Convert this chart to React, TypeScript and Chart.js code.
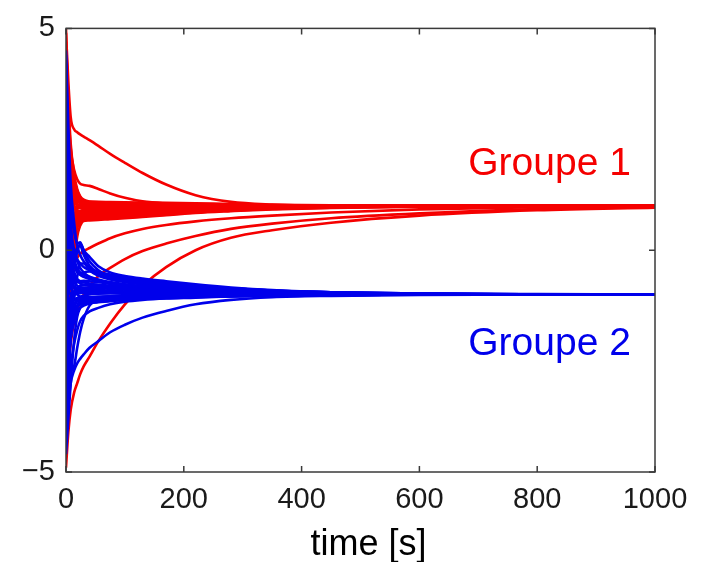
import React, { useEffect, useRef } from "react";
import { Chart, registerables } from "chart.js";

Chart.register(...registerables);

// ---- data ----
const TIME = [0, 4, 8, 14, 19, 24, 30, 40, 55, 75, 100, 130, 170, 220, 280, 350, 450, 600, 800, 1000];

// Groupe 1 (red) trajectories
const RED_1 = [4.9, 3.8, 3.0, 2.72, 2.66, 2.61, 2.56, 2.48, 2.35, 2.17, 1.97, 1.74, 1.48, 1.24, 1.09, 1.03, 1.0, 1.0, 1.0, 1.0];
const RED_2 = [4.6, 3.2, 2.3, 1.8, 1.6, 1.5, 1.47, 1.45, 1.38, 1.28, 1.18, 1.1, 1.05, 1.02, 1.01, 1.0, 1.0, 1.0, 1.0, 1.0];
const RED_3 = [4.7, 3.4, 2.4, 1.7, 1.38, 1.22, 1.14, 1.1, 1.08, 1.06, 1.05, 1.04, 1.03, 1.02, 1.01, 1.0, 1.0, 1.0, 1.0, 1.0];
const RED_4 = [4.0, 2.8, 2.0, 1.45, 1.22, 1.1, 1.03, 1.0, 0.98, 0.97, 0.97, 0.98, 0.99, 0.995, 1.0, 1.0, 1.0, 1.0, 1.0, 1.0];
const RED_5 = [3.2, 2.2, 1.6, 1.2, 1.02, 0.95, 0.92, 0.91, 0.91, 0.92, 0.93, 0.94, 0.95, 0.97, 0.98, 0.99, 1.0, 1.0, 1.0, 1.0];
const RED_6 = [2.2, 1.7, 1.3, 1.0, 0.87, 0.82, 0.8, 0.8, 0.81, 0.83, 0.85, 0.87, 0.9, 0.93, 0.95, 0.97, 0.985, 0.995, 1.0, 1.0];
const RED_7 = [1.0, 0.9, 0.85, 0.8, 0.76, 0.73, 0.72, 0.72, 0.73, 0.75, 0.77, 0.8, 0.83, 0.87, 0.91, 0.94, 0.97, 0.99, 1.0, 1.0];
const RED_8 = [-1.0, -0.3, 0.2, 0.5, 0.6, 0.64, 0.66, 0.67, 0.68, 0.7, 0.72, 0.75, 0.79, 0.84, 0.88, 0.92, 0.955, 0.98, 0.995, 1.0];
const RED_9 = [-2.5, -1.0, 0.1, 0.7, 0.93, 1.02, 1.06, 1.08, 1.07, 1.05, 1.04, 1.03, 1.02, 1.01, 1.0, 1.0, 1.0, 1.0, 1.0, 1.0];
const RED_10 = [3.6, 1.5, 0.6, 0.6, 0.75, 0.85, 0.9, 0.94, 0.96, 0.97, 0.98, 0.99, 0.99, 1.0, 1.0, 1.0, 1.0, 1.0, 1.0, 1.0];
const RED_11 = [-0.5, 0.5, 1.0, 1.15, 1.13, 1.11, 1.1, 1.09, 1.09, 1.085, 1.08, 1.075, 1.07, 1.06, 1.04, 1.025, 1.01, 1.0, 1.0, 1.0];
const RED_12 = [-2.0, -1.1, -0.6, -0.3, -0.17, -0.08, -0.02, 0.05, 0.15, 0.27, 0.38, 0.48, 0.57, 0.65, 0.72, 0.78, 0.85, 0.92, 0.97, 0.99];
const RED_13 = [-3.6, -2.7, -2.1, -1.6, -1.35, -1.17, -1.0, -0.8, -0.58, -0.4, -0.2, -0.02, 0.15, 0.32, 0.48, 0.6, 0.72, 0.83, 0.93, 0.97];
const RED_14 = [-4.9, -4.1, -3.6, -3.2, -3.0, -2.8, -2.62, -2.4, -2.05, -1.65, -1.22, -0.8, -0.38, 0.0, 0.28, 0.45, 0.62, 0.78, 0.9, 0.96];
const RED_15 = [4.2, 2.5, 1.7, 1.25, 1.1, 1.06, 1.05, 1.04, 1.04, 1.035, 1.03, 1.03, 1.025, 1.02, 1.01, 1.005, 1.0, 1.0, 1.0, 1.0];
const RED_16 = [3.0, 1.9, 1.35, 1.08, 1.02, 1.0, 1.0, 0.99, 0.99, 0.99, 0.99, 0.99, 1.0, 1.0, 1.0, 1.0, 1.0, 1.0, 1.0, 1.0];
const RED_17 = [2.6, 1.6, 1.1, 0.98, 0.95, 0.95, 0.95, 0.95, 0.95, 0.96, 0.96, 0.97, 0.98, 0.99, 0.995, 1.0, 1.0, 1.0, 1.0, 1.0];
const RED_18 = [1.5, 1.2, 1.0, 0.92, 0.9, 0.88, 0.88, 0.88, 0.88, 0.89, 0.9, 0.91, 0.93, 0.95, 0.965, 0.98, 0.99, 1.0, 1.0, 1.0];
const RED_19 = [0.5, 0.7, 0.8, 0.83, 0.84, 0.84, 0.84, 0.84, 0.85, 0.86, 0.87, 0.89, 0.91, 0.93, 0.95, 0.97, 0.985, 0.995, 1.0, 1.0];
const RED_20 = [-0.5, 0.2, 0.55, 0.7, 0.75, 0.77, 0.78, 0.78, 0.79, 0.8, 0.82, 0.84, 0.87, 0.9, 0.93, 0.955, 0.975, 0.99, 1.0, 1.0];
const RED_21 = [-1.5, -0.5, 0.2, 0.55, 0.68, 0.72, 0.74, 0.75, 0.76, 0.77, 0.79, 0.81, 0.84, 0.88, 0.915, 0.945, 0.97, 0.99, 1.0, 1.0];
const RED_22 = [-3.0, -1.5, -0.4, 0.35, 0.6, 0.68, 0.7, 0.71, 0.72, 0.73, 0.75, 0.78, 0.82, 0.86, 0.9, 0.935, 0.965, 0.985, 0.995, 1.0];
const RED_23 = [-4.0, -2.2, -0.8, 0.3, 0.62, 0.68, 0.69, 0.7, 0.71, 0.72, 0.74, 0.77, 0.8, 0.85, 0.89, 0.93, 0.96, 0.985, 0.995, 1.0];
const RED_24 = [5.0, 3.0, 1.8, 1.3, 1.15, 1.1, 1.08, 1.07, 1.065, 1.06, 1.055, 1.05, 1.04, 1.03, 1.02, 1.01, 1.0, 1.0, 1.0, 1.0];
const RED_25 = [2.0, 0.6, 0.3, 0.5, 0.7, 0.8, 0.85, 0.88, 0.9, 0.92, 0.94, 0.96, 0.97, 0.98, 0.99, 1.0, 1.0, 1.0, 1.0, 1.0];
const RED_26 = [0.8, 1.4, 1.5, 1.3, 1.15, 1.08, 1.03, 1.0, 0.97, 0.95, 0.95, 0.96, 0.97, 0.98, 0.99, 1.0, 1.0, 1.0, 1.0, 1.0];
const RED_27 = [3.8, 2.0, 1.1, 0.85, 0.8, 0.79, 0.79, 0.8, 0.81, 0.82, 0.84, 0.86, 0.88, 0.91, 0.94, 0.96, 0.98, 0.995, 1.0, 1.0];
const RED_28 = [-0.2, 0.8, 1.2, 1.1, 1.03, 1.0, 0.98, 0.96, 0.94, 0.93, 0.93, 0.94, 0.95, 0.96, 0.975, 0.985, 0.995, 1.0, 1.0, 1.0];
const RED_29 = [4.4, 2.0, 1.2, 1.0, 0.98, 0.98, 0.98, 0.98, 0.98, 0.985, 0.99, 0.99, 0.995, 1.0, 1.0, 1.0, 1.0, 1.0, 1.0, 1.0];
const RED_30 = [1.8, 2.4, 2.0, 1.5, 1.25, 1.12, 1.06, 1.03, 1.01, 1.0, 1.0, 1.0, 1.0, 1.0, 1.0, 1.0, 1.0, 1.0, 1.0, 1.0];
const RED_31 = [-3.3, -1.8, -0.6, 0.2, 0.5, 0.62, 0.7, 0.76, 0.8, 0.84, 0.87, 0.9, 0.93, 0.95, 0.97, 0.98, 0.99, 1.0, 1.0, 1.0];
const RED_32 = [3.4, 2.6, 2.0, 1.6, 1.35, 1.2, 1.12, 1.07, 1.04, 1.02, 1.01, 1.0, 1.0, 1.0, 1.0, 1.0, 1.0, 1.0, 1.0, 1.0];
const RED_33 = [-4.5, -3.0, -1.5, -0.3, 0.3, 0.55, 0.68, 0.75, 0.8, 0.84, 0.88, 0.91, 0.94, 0.96, 0.975, 0.985, 0.995, 1.0, 1.0, 1.0];
const RED_34 = [0.2, 0.0, 0.15, 0.4, 0.55, 0.64, 0.7, 0.75, 0.79, 0.83, 0.86, 0.89, 0.92, 0.95, 0.97, 0.98, 0.99, 1.0, 1.0, 1.0];

// Groupe 2 (blue) trajectories
const BLUE_1 = [4.4, 2.2, 1.0, 0.4, 0.15, 0.18, 0.0, -0.15, -0.36, -0.5, -0.58, -0.64, -0.7, -0.77, -0.84, -0.9, -0.95, -0.98, -0.995, -1.0];
const BLUE_2 = [-1.5, -1.0, -0.6, -0.3, -0.05, 0.15, 0.0, -0.25, -0.45, -0.6, -0.67, -0.72, -0.78, -0.84, -0.9, -0.94, -0.97, -0.99, -1.0, -1.0];
const BLUE_3 = [3.5, 1.5, 0.4, -0.2, -0.4, -0.5, -0.55, -0.6, -0.66, -0.72, -0.77, -0.81, -0.86, -0.9, -0.94, -0.96, -0.98, -0.99, -1.0, -1.0];
const BLUE_4 = [2.5, 0.8, -0.1, -0.5, -0.65, -0.7, -0.72, -0.75, -0.79, -0.83, -0.86, -0.89, -0.92, -0.95, -0.97, -0.98, -0.99, -1.0, -1.0, -1.0];
const BLUE_5 = [1.2, 0.2, -0.4, -0.7, -0.8, -0.83, -0.85, -0.87, -0.89, -0.91, -0.93, -0.95, -0.96, -0.97, -0.98, -0.99, -1.0, -1.0, -1.0, -1.0];
const BLUE_6 = [0.0, -0.6, -0.85, -0.95, -0.98, -0.97, -0.96, -0.96, -0.97, -0.97, -0.98, -0.98, -0.99, -0.99, -1.0, -1.0, -1.0, -1.0, -1.0, -1.0];
const BLUE_7 = [-2.5, -1.6, -1.2, -1.1, -1.08, -1.07, -1.06, -1.06, -1.05, -1.05, -1.04, -1.03, -1.03, -1.02, -1.01, -1.01, -1.0, -1.0, -1.0, -1.0];
const BLUE_8 = [-3.8, -2.6, -1.8, -1.4, -1.25, -1.2, -1.18, -1.16, -1.14, -1.12, -1.1, -1.08, -1.06, -1.04, -1.03, -1.02, -1.01, -1.0, -1.0, -1.0];
const BLUE_9 = [-3.3, -3.0, -2.6, -2.1, -1.8, -1.6, -1.48, -1.38, -1.3, -1.22, -1.16, -1.12, -1.09, -1.07, -1.04, -1.02, -1.01, -1.0, -1.0, -1.0];
const BLUE_10 = [-0.5, -1.8, -2.7, -2.6, -2.2, -1.85, -1.55, -1.25, -1.08, -1.04, -1.03, -1.02, -1.01, -1.01, -1.0, -1.0, -1.0, -1.0, -1.0, -1.0];
const BLUE_11 = [-4.3, -3.5, -3.0, -2.7, -2.55, -2.45, -2.35, -2.2, -2.05, -1.85, -1.68, -1.52, -1.37, -1.22, -1.12, -1.06, -1.03, -1.01, -1.0, -1.0];
const BLUE_12 = [4.0, 2.0, 0.5, -0.3, -0.5, -0.55, -0.5, -0.48, -0.5, -0.55, -0.6, -0.66, -0.73, -0.8, -0.86, -0.91, -0.95, -0.98, -0.995, -1.0];
const BLUE_13 = [-4.0, -3.0, -2.0, -1.3, -1.1, -1.05, -1.02, -1.0, -0.98, -0.97, -0.97, -0.97, -0.98, -0.98, -0.99, -0.99, -1.0, -1.0, -1.0, -1.0];
const BLUE_14 = [4.5, 2.8, 1.5, 0.6, 0.1, -0.1, -0.25, -0.4, -0.52, -0.6, -0.65, -0.7, -0.75, -0.8, -0.86, -0.91, -0.95, -0.98, -0.995, -1.0];
const BLUE_15 = [3.0, 1.2, 0.2, -0.3, -0.45, -0.55, -0.6, -0.65, -0.7, -0.75, -0.79, -0.83, -0.87, -0.91, -0.94, -0.965, -0.98, -0.99, -1.0, -1.0];
const BLUE_16 = [2.0, 0.5, -0.3, -0.6, -0.7, -0.75, -0.78, -0.8, -0.82, -0.85, -0.88, -0.9, -0.93, -0.95, -0.97, -0.98, -0.99, -1.0, -1.0, -1.0];
const BLUE_17 = [0.8, -0.2, -0.65, -0.85, -0.9, -0.9, -0.9, -0.91, -0.92, -0.93, -0.94, -0.95, -0.96, -0.97, -0.98, -0.99, -1.0, -1.0, -1.0, -1.0];
const BLUE_18 = [-0.8, -0.9, -1.0, -1.1, -1.12, -1.12, -1.12, -1.11, -1.1, -1.09, -1.08, -1.06, -1.05, -1.03, -1.02, -1.01, -1.0, -1.0, -1.0, -1.0];
const BLUE_19 = [-2.0, -1.3, -1.05, -0.98, -0.95, -0.93, -0.92, -0.92, -0.93, -0.94, -0.95, -0.96, -0.97, -0.98, -0.99, -0.99, -1.0, -1.0, -1.0, -1.0];
const BLUE_20 = [-3.0, -2.0, -1.4, -1.2, -1.15, -1.14, -1.13, -1.12, -1.11, -1.1, -1.08, -1.06, -1.05, -1.03, -1.02, -1.01, -1.0, -1.0, -1.0, -1.0];
const BLUE_21 = [-4.2, -2.8, -1.6, -1.05, -0.9, -0.85, -0.84, -0.84, -0.85, -0.87, -0.89, -0.91, -0.93, -0.95, -0.97, -0.98, -0.99, -1.0, -1.0, -1.0];
const BLUE_22 = [1.8, 0.0, -0.2, -0.1, 0.05, 0.1, -0.1, -0.35, -0.5, -0.58, -0.63, -0.68, -0.74, -0.8, -0.86, -0.91, -0.95, -0.98, -0.99, -1.0];
const BLUE_23 = [-1.0, -0.5, -0.2, -0.15, -0.25, -0.4, -0.5, -0.6, -0.68, -0.74, -0.78, -0.82, -0.86, -0.9, -0.93, -0.96, -0.98, -0.99, -1.0, -1.0];
const BLUE_24 = [-2.8, -2.3, -1.7, -1.35, -1.25, -1.22, -1.2, -1.19, -1.17, -1.15, -1.12, -1.09, -1.07, -1.05, -1.03, -1.02, -1.01, -1.0, -1.0, -1.0];
const BLUE_25 = [0.3, -0.4, -0.7, -0.75, -0.72, -0.7, -0.69, -0.7, -0.72, -0.76, -0.8, -0.84, -0.88, -0.92, -0.95, -0.97, -0.985, -0.995, -1.0, -1.0];
const BLUE_26 = [3.8, 1.8, 0.6, 0.0, -0.2, -0.3, -0.38, -0.45, -0.55, -0.63, -0.7, -0.75, -0.8, -0.85, -0.89, -0.93, -0.96, -0.985, -1.0, -1.0];
const BLUE_27 = [-1.8, -1.5, -1.3, -1.22, -1.2, -1.19, -1.18, -1.17, -1.16, -1.14, -1.12, -1.1, -1.08, -1.06, -1.04, -1.025, -1.01, -1.0, -1.0, -1.0];
const BLUE_28 = [2.8, 0.6, -0.4, -0.85, -1.0, -1.05, -1.06, -1.06, -1.05, -1.04, -1.03, -1.02, -1.02, -1.01, -1.01, -1.0, -1.0, -1.0, -1.0, -1.0];
const BLUE_29 = [-3.5, -2.2, -1.3, -0.95, -0.85, -0.8, -0.78, -0.77, -0.78, -0.8, -0.83, -0.86, -0.89, -0.92, -0.95, -0.97, -0.985, -0.995, -1.0, -1.0];
const BLUE_30 = [-4.6, -3.8, -3.0, -2.0, -1.5, -1.3, -1.2, -1.15, -1.12, -1.1, -1.08, -1.06, -1.05, -1.03, -1.02, -1.01, -1.0, -1.0, -1.0, -1.0];
const BLUE_31 = [-3.0, -2.5, -2.0, -1.6, -1.4, -1.3, -1.25, -1.2, -1.16, -1.13, -1.1, -1.08, -1.06, -1.04, -1.03, -1.02, -1.01, -1.0, -1.0, -1.0];
const BLUE_32 = [-2.2, -2.0, -1.6, -1.0, -0.6, -0.3, -0.3, -0.45, -0.58, -0.66, -0.72, -0.77, -0.82, -0.87, -0.91, -0.95, -0.975, -0.99, -1.0, -1.0];
const BLUE_33 = [4.2, 1.0, -0.6, -1.1, -1.15, -1.13, -1.1, -1.08, -1.07, -1.06, -1.05, -1.04, -1.03, -1.02, -1.01, -1.0, -1.0, -1.0, -1.0, -1.0];
const BLUE_34 = [-0.3, -1.2, -1.6, -1.5, -1.3, -1.2, -1.15, -1.12, -1.1, -1.08, -1.06, -1.05, -1.04, -1.03, -1.02, -1.01, -1.0, -1.0, -1.0, -1.0];

const RED_SERIES = [
  RED_1, RED_2, RED_3, RED_4, RED_5, RED_6, RED_7, RED_8, RED_9, RED_10, RED_11, RED_12, RED_13, RED_14, RED_15, RED_16, RED_17,
  RED_18, RED_19, RED_20, RED_21, RED_22, RED_23, RED_24, RED_25, RED_26, RED_27, RED_28, RED_29, RED_30, RED_31, RED_32, RED_33, RED_34,
];
const BLUE_SERIES = [
  BLUE_1, BLUE_2, BLUE_3, BLUE_4, BLUE_5, BLUE_6, BLUE_7, BLUE_8, BLUE_9, BLUE_10, BLUE_11, BLUE_12, BLUE_13, BLUE_14, BLUE_15, BLUE_16, BLUE_17,
  BLUE_18, BLUE_19, BLUE_20, BLUE_21, BLUE_22, BLUE_23, BLUE_24, BLUE_25, BLUE_26, BLUE_27, BLUE_28, BLUE_29, BLUE_30, BLUE_31, BLUE_32, BLUE_33, BLUE_34,
];

const X_TICKS = [0, 200, 400, 600, 800, 1000];
const Y_TICKS = [-5, 0, 5];
const X_TITLE = "time [s]";
const GROUP_LABELS = ["Groupe 1", "Groupe 2"];
const GROUP_LABEL_X = [683, 683];
const GROUP_LABEL_Y = [1.7, -2.36];

// ---- styles ----
const RED = "rgb(245,0,0)";
const BLUE = "rgb(0,0,235)";
const FONT = '"Liberation Sans", Arial, Helvetica, sans-serif';

const framePlugin = {
  id: "matlabFrame",
  afterDatasetsDraw(chart: any) {
    const { ctx, chartArea, scales } = chart;
    const { left, right, top, bottom } = chartArea;
    const xs = scales.x;
    const ys = scales.y;
    const tick = 6;
    ctx.save();
    ctx.strokeStyle = "#3a3a3a";
    ctx.lineWidth = 1.5;
    ctx.strokeRect(left, top, right - left, bottom - top);
    ctx.beginPath();
    for (const v of X_TICKS) {
      const px = xs.getPixelForValue(v);
      ctx.moveTo(px, bottom);
      ctx.lineTo(px, bottom - tick);
      ctx.moveTo(px, top);
      ctx.lineTo(px, top + tick);
    }
    for (const v of Y_TICKS) {
      const py = ys.getPixelForValue(v);
      ctx.moveTo(left, py);
      ctx.lineTo(left + tick, py);
      ctx.moveTo(right, py);
      ctx.lineTo(right - tick, py);
    }
    ctx.stroke();

    ctx.font = `39px ${FONT}`;
    ctx.textAlign = "left";
    ctx.textBaseline = "alphabetic";
    const colors = [RED, BLUE];
    GROUP_LABELS.forEach((t, i) => {
      ctx.fillStyle = colors[i];
      ctx.fillText(t, xs.getPixelForValue(GROUP_LABEL_X[i]), ys.getPixelForValue(GROUP_LABEL_Y[i]));
    });

    ctx.font = `36px ${FONT}`;
    ctx.fillStyle = "#000";
    ctx.textAlign = "center";
    ctx.fillText(X_TITLE, (left + right) / 2 + 8, 555);
    ctx.restore();
  },
};

export default function App() {
  const ref = useRef<HTMLCanvasElement | null>(null);

  useEffect(() => {
    if (!ref.current) return;
    const mk = (vals: number[], color: string) => ({
      data: vals.map((y, i) => ({ x: TIME[i], y })),
      borderColor: color,
      borderWidth: 2.6,
      pointRadius: 0,
      fill: false,
      cubicInterpolationMode: "monotone" as const,
    });
    const datasets = [
      ...BLUE_SERIES.map((s) => mk(s, BLUE)),
      ...RED_SERIES.map((s) => mk(s, RED)),
    ];
    const chart = new Chart(ref.current, {
      type: "line",
      data: { datasets },
      options: {
        responsive: false,
        animation: false,
        layout: { padding: { top: 18, right: 49, left: 0, bottom: 0 } },
        plugins: { legend: { display: false }, tooltip: { enabled: false } },
        scales: {
          x: {
            type: "linear",
            min: 0,
            max: 1000,
            afterFit: (s: any) => {
              s.height = 90;
            },
            afterBuildTicks: (s: any) => {
              s.ticks = X_TICKS.map((v) => ({ value: v }));
            },
            grid: { display: false, drawTicks: false },
            border: { display: false },
            ticks: {
              padding: 11,
              maxRotation: 0,
              autoSkip: false,
              color: "#1a1a1a",
              font: { family: FONT, size: 29 },
              callback: (v: any) => String(v),
            },
          },
          y: {
            type: "linear",
            min: -5,
            max: 5,
            afterFit: (s: any) => {
              s.width = 66;
            },
            afterBuildTicks: (s: any) => {
              s.ticks = Y_TICKS.map((v) => ({ value: v }));
            },
            grid: { display: false, drawTicks: false },
            border: { display: false },
            ticks: {
              padding: 11,
              color: "#1a1a1a",
              font: { family: FONT, size: 29 },
              callback: (v: any) => (Number(v) < 0 ? "\u2212" + Math.abs(Number(v)) : String(v)),
            },
          },
        },
      },
      plugins: [framePlugin],
    });
    return () => chart.destroy();
  }, []);

  return (
    <div style={{ position: "absolute", left: 0, top: 0, width: 704, height: 562, background: "#fff" }}>
      <canvas ref={ref} width={704} height={562} style={{ display: "block" }} />
    </div>
  );
}
